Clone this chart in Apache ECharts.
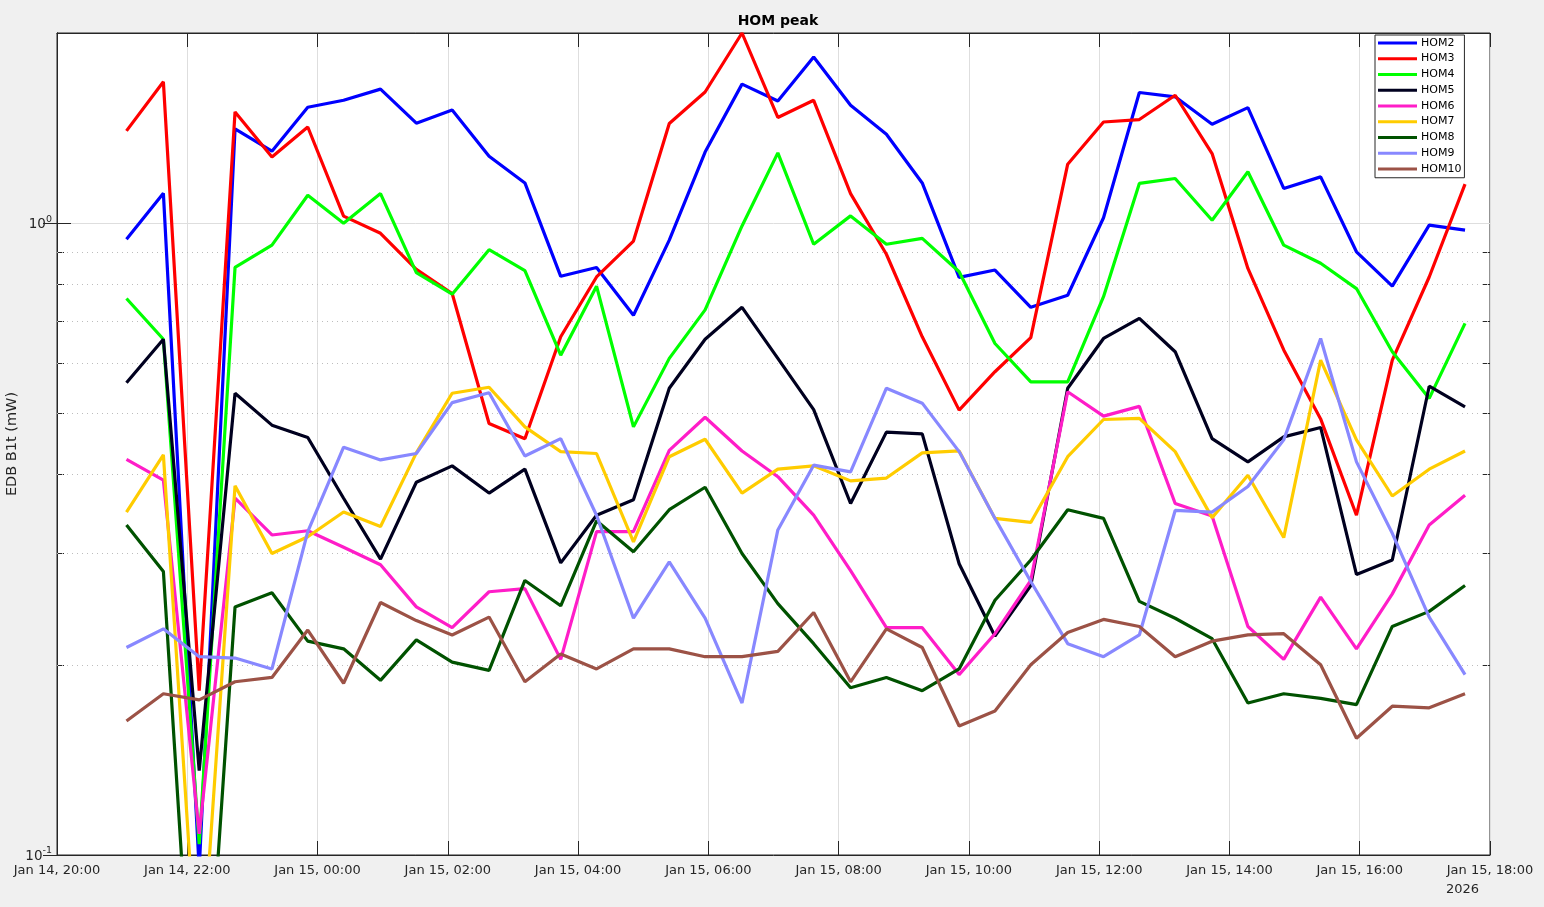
<!DOCTYPE html>
<html>
<head>
<meta charset="utf-8">
<script src="https://cdn.jsdelivr.net/npm/echarts@6/dist/echarts.min.js"></script>
<style>
html,body{margin:0;padding:0;background:#f0f0f0;}
#chart{width:1544px;height:907px;}
</style>
</head>
<body>
<div id="chart"></div>
<script>
// sample times (Jan 14 21:04 ... Jan 15 17:37)
const sampleTimes = ['21:04','21:38','22:11','22:44','23:18','23:51','00:24','00:58','01:31','02:04','02:38','03:11','03:44','04:17','04:51','05:24','05:57','06:31','07:04','07:37','08:11','08:44','09:17','09:51','10:24','10:57','11:31','12:04','12:37','13:10','13:44','14:17','14:50','15:24','15:57','16:30','17:04','17:37'];

const seriesNames = ['HOM2','HOM3','HOM4','HOM5','HOM6','HOM7','HOM8','HOM9','HOM10'];

const HOM2 = [0.943,1.115,0.095,1.41,1.30,1.526,1.565,1.63,1.44,1.51,1.276,1.158,0.824,0.851,0.715,0.94,1.296,1.66,1.561,1.833,1.537,1.383,1.158,0.821,0.843,0.736,0.769,1.02,1.61,1.585,1.434,1.524,1.135,1.184,0.901,0.795,0.993,0.975];
const HOM3 = [1.40,1.674,0.182,1.50,1.273,1.42,1.026,0.964,0.845,0.774,0.482,0.456,0.661,0.822,0.937,1.438,1.613,2.0,1.47,1.565,1.114,0.893,0.661,0.506,0.582,0.659,1.24,1.446,1.459,1.594,1.289,0.848,0.630,0.49,0.345,0.607,0.822,1.153];
const HOM4 = [0.760,0.655,0.104,0.851,0.923,1.107,1.0,1.114,0.835,0.772,0.908,0.841,0.618,0.795,0.476,0.611,0.729,0.99,1.292,0.926,1.027,0.926,0.946,0.838,0.645,0.561,0.561,0.765,1.156,1.177,1.011,1.206,0.923,0.864,0.788,0.626,0.528,0.694];
const HOM5 = [0.559,0.655,0.136,0.538,0.479,0.458,0.367,0.294,0.389,0.413,0.374,0.408,0.290,0.345,0.365,0.548,0.655,0.736,0.611,0.507,0.360,0.467,0.464,0.289,0.222,0.267,0.548,0.657,0.707,0.626,0.456,0.419,0.459,0.475,0.278,0.293,0.552,0.512];
const HOM6 = [0.423,0.392,0.108,0.367,0.321,0.326,0.307,0.288,0.247,0.229,0.261,0.264,0.204,0.325,0.325,0.437,0.493,0.436,0.397,0.345,0.282,0.229,0.229,0.193,0.224,0.272,0.541,0.495,0.513,0.360,0.344,0.230,0.204,0.256,0.212,0.259,0.333,0.371];
const HOM7 = [0.349,0.430,0.058,0.384,0.300,0.319,0.349,0.331,0.433,0.538,0.550,0.476,0.435,0.432,0.313,0.427,0.455,0.374,0.408,0.413,0.391,0.395,0.433,0.436,0.341,0.336,0.427,0.489,0.491,0.435,0.342,0.399,0.318,0.607,0.454,0.370,0.408,0.436];
const HOM8 = [0.333,0.281,0.036,0.247,0.260,0.218,0.212,0.189,0.219,0.202,0.196,0.272,0.248,0.338,0.302,0.352,0.382,0.300,0.250,0.216,0.184,0.191,0.182,0.197,0.253,0.293,0.352,0.341,0.252,0.237,0.220,0.174,0.180,0.177,0.173,0.230,0.243,0.267];
const HOM9 = [0.213,0.228,0.206,0.205,0.197,0.325,0.442,0.422,0.432,0.520,0.539,0.428,0.456,0.345,0.237,0.291,0.237,0.174,0.327,0.414,0.404,0.548,0.519,0.435,0.341,0.271,0.216,0.206,0.223,0.351,0.349,0.383,0.454,0.657,0.419,0.323,0.238,0.193];
const HOM10 = [0.163,0.180,0.176,0.188,0.191,0.227,0.187,0.251,0.235,0.223,0.238,0.188,0.208,0.197,0.212,0.212,0.206,0.206,0.210,0.242,0.188,0.228,0.213,0.160,0.169,0.200,0.225,0.236,0.230,0.206,0.218,0.223,0.224,0.200,0.153,0.172,0.171,0.180];

const xTickLabels = ['Jan 14, 20:00','Jan 14, 22:00','Jan 15, 00:00','Jan 15, 02:00','Jan 15, 04:00','Jan 15, 06:00','Jan 15, 08:00','Jan 15, 10:00','Jan 15, 12:00','Jan 15, 14:00','Jan 15, 16:00','Jan 15, 18:00'];
const yTickValues = [0.1, 1];
const yTickExponents = ['-1', '0'];
const yMinorTicks = [0.2,0.3,0.4,0.5,0.6,0.7,0.8,0.9];
const yearLabel = '2026';

const colors = ['#0000ff','#ff0000','#00ff00','#00001f','#ff1dc8','#ffcc00','#005200','#8888ff','#9c5246'];
const allData = [HOM2,HOM3,HOM4,HOM5,HOM6,HOM7,HOM8,HOM9,HOM10];

// hours since Jan 14 20:00
let dayOffset = 0, prev = -1;
const hours = sampleTimes.map(t => {
  const [h, m] = t.split(':').map(Number);
  let v = h + m / 60;
  if (prev >= 0 && v + dayOffset < prev) dayOffset += 24;
  v += dayOffset;
  prev = v;
  return v - 20;
});

const FONT = 'DejaVu Sans';
const AX = '#262626';

const series = seriesNames.map((name, i) => {
  const s = {
    name: name,
    type: 'line',
    xAxisIndex: 0,
    yAxisIndex: 0,
    data: hours.map((h, j) => [h, allData[i][j]]),
    showSymbol: false,
    symbol: 'none',
    lineStyle: { width: 3.2, color: colors[i] },
    itemStyle: { color: colors[i] },
    clip: true,
    z: 3
  };
  if (i === 0) {
    s.markLine = {
      silent: true,
      symbol: 'none',
      z: 1,
      label: { show: false },
      lineStyle: { type: [1, 4], color: '#bdbdbd', width: 1 },
      data: yMinorTicks.map(v => ({ yAxis: v }))
    };
  }
  return s;
});

const chart = echarts.init(document.getElementById('chart'), null, { renderer: 'canvas' });
chart.setOption({
  backgroundColor: '#f0f0f0',
  animation: false,
  textStyle: { fontFamily: FONT },
  title: [
    { text: 'HOM peak', left: 773, top: 9, textAlign: 'center',
      textStyle: { fontFamily: FONT, fontWeight: 'bold', fontSize: 14, color: '#000' } },
    { text: yearLabel, left: 1441, top: 878,
      textStyle: { fontFamily: FONT, fontWeight: 'normal', fontSize: 13, color: AX } }
  ],
  legend: {
    orient: 'vertical',
    left: 1375,
    top: 35,
    data: seriesNames,
    icon: 'rect',
    itemWidth: 39,
    itemHeight: 3,
    itemGap: 2,
    itemStyle: { borderWidth: 0 },
    padding: [1, 3, 2, 3],
    backgroundColor: '#ffffff',
    borderColor: '#262626',
    borderWidth: 1,
    borderRadius: 0,
    textStyle: { fontFamily: FONT, fontSize: 11, color: '#000', lineHeight: 13.75, padding: [0, 0, 0, -1] }
  },
  grid: {
    left: 57, top: 33, width: 1433, height: 822,
    show: true, backgroundColor: '#ffffff', borderColor: AX, borderWidth: 1,
    containLabel: false,
    outerBoundsMode: 'none'
  },
  xAxis: [
    {
      type: 'value', position: 'bottom', min: 0, max: 22, interval: 2,
      axisLine: { show: true, lineStyle: { color: AX, width: 1 } },
      axisTick: { show: true, inside: true, length: 14, lineStyle: { color: AX } },
      axisLabel: { show: true, margin: 9, fontFamily: FONT, fontSize: 13, color: AX,
        formatter: v => xTickLabels[Math.round(v / 2)] || '' },
      splitLine: { show: true, lineStyle: { color: '#dedede', width: 1 } }
    },
    {
      type: 'value', position: 'top', min: 0, max: 22, interval: 2,
      axisLine: { show: true, lineStyle: { color: AX, width: 1 } },
      axisTick: { show: true, inside: true, length: 14, lineStyle: { color: AX } },
      axisLabel: { show: false },
      splitLine: { show: false }
    }
  ],
  yAxis: [
    {
      type: 'log', logBase: 10, min: 0.1, max: 2, position: 'left', offset: 0,
      name: 'EDB B1t (mW)', nameLocation: 'middle', nameGap: 37, nameRotate: 90,
      nameMoveOverlap: false,
      nameTextStyle: { fontFamily: FONT, fontSize: 14.5, color: AX },
      axisLine: { show: true, lineStyle: { color: AX, width: 1 } },
      axisTick: { show: true, inside: true, length: 14, customValues: yTickValues, lineStyle: { color: AX } },
      axisLabel: {
        show: true, margin: 5, customValues: yTickValues,
        formatter: v => {
          const k = yTickValues.findIndex(t => Math.abs(t - v) / t < 1e-6);
          return k < 0 ? '' : '{b|10}{s|' + yTickExponents[k] + '}';
        },
        rich: {
          b: { fontFamily: FONT, fontSize: 13.5, color: AX, padding: [3, 0, 0, 0] },
          s: { fontFamily: FONT, fontSize: 9.5, color: AX, padding: [0, 0, 8, 0] }
        }
      },
      splitLine: { show: true, lineStyle: { color: '#dedede', width: 1 } }
    },
    {
      type: 'log', logBase: 10, min: 0.1, max: 2, position: 'right', offset: 0,
      axisLine: { show: true, lineStyle: { color: AX, width: 1 } },
      axisTick: { show: true, inside: true, length: 14, customValues: yTickValues, lineStyle: { color: AX } },
      axisLabel: { show: false },
      splitLine: { show: false }
    },
    {
      type: 'log', logBase: 10, min: 0.1, max: 2, position: 'left', offset: 0,
      axisLine: { show: false },
      axisTick: { show: true, inside: true, length: 7, customValues: yMinorTicks, lineStyle: { color: AX } },
      axisLabel: { show: false },
      splitLine: { show: false }
    },
    {
      type: 'log', logBase: 10, min: 0.1, max: 2, position: 'right', offset: 0,
      axisLine: { show: false },
      axisTick: { show: true, inside: true, length: 7, customValues: yMinorTicks, lineStyle: { color: AX } },
      axisLabel: { show: false },
      splitLine: { show: false }
    }
  ],
  series: series
});
</script>
</body>
</html>
